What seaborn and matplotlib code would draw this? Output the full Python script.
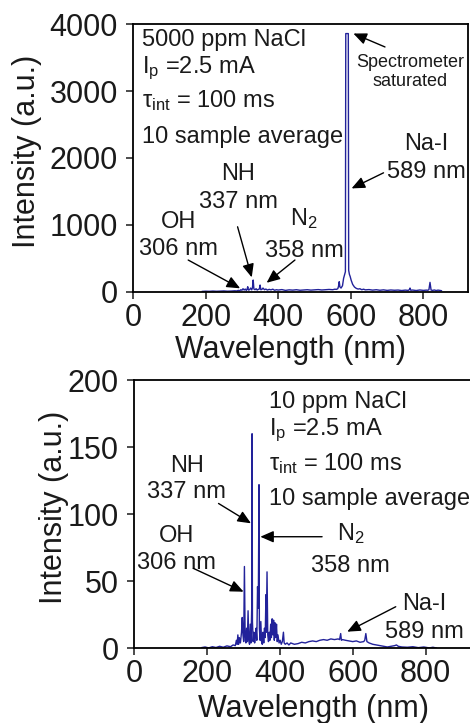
import pandas as pd
import matplotlib
matplotlib.use("Agg")
import matplotlib.pyplot as plt
import seaborn as sns

# Espectro 5000 ppm NaCl
top_wl = [190, 200, 210, 220, 230, 240, 250, 260, 270, 280,
          286, 290, 294, 297, 300, 303, 306, 309, 312, 314,
          316, 318, 321, 324, 327, 329, 331, 333, 336, 339,
          342, 345, 348, 350, 352, 355, 358, 362, 366, 370,
          375, 380, 385, 390, 395, 400, 410, 420, 430, 440,
          450, 460, 470, 480, 490, 500, 510, 520, 530, 540,
          550, 556, 560, 564, 566, 568, 570, 573, 577, 580,
          583, 585, 586, 593, 594, 596, 598, 601, 605, 610,
          615, 620, 625, 630, 635, 640, 650, 660, 670, 680,
          690, 700, 710, 720, 730, 740, 750, 758, 761, 763,
          765, 770, 780, 790, 800, 808, 812, 815, 818, 821,
          825, 830, 835, 840, 845, 850]
top_int = [5, 8, 6, 10, 7, 9, 12, 8, 10, 14,
           12, 20, 15, 30, 22, 45, 25, 40, 20, 35,
           75, 25, 30, 55, 28, 60, 175, 40, 30, 45,
           25, 35, 40, 100, 30, 35, 55, 30, 40, 25,
           35, 28, 38, 22, 30, 25, 32, 20, 28, 24,
           30, 22, 26, 30, 24, 28, 32, 26, 30, 34,
           30, 38, 35, 45, 80, 150, 70, 55, 90, 200,
           260, 300, 3860, 3860, 320, 260, 230, 170, 110, 70,
           50, 40, 45, 30, 38, 28, 32, 24, 30, 22,
           28, 20, 26, 22, 25, 18, 24, 20, 30, 55,
           22, 25, 18, 26, 20, 24, 22, 30, 140, 25,
           20, 26, 18, 24, 20, 15]

# Espectro 10 ppm NaCl
bot_wl = [185, 195, 205, 215, 225, 235, 245, 255, 265, 272,
          278, 281, 283, 285, 287, 289, 292, 295, 297, 299,
          301, 303, 305, 307, 309, 311, 313, 315, 317, 319,
          321, 323, 324, 325, 327, 329, 331, 333, 335, 337,
          339, 341, 343, 344, 346, 348, 350, 352, 354, 356,
          358, 360, 362, 363, 365, 367, 369, 371, 373, 375,
          377, 379, 381, 383, 385, 387, 389, 391, 393, 395,
          398, 401, 404, 407, 410, 412, 415, 420, 425, 430,
          440, 450, 460, 470, 480, 490, 500, 510, 520, 530,
          540, 550, 560, 564, 567, 569, 572, 580, 590, 600,
          610, 620, 630, 633, 636, 639, 645, 655, 665, 675,
          685, 695, 705, 715, 720, 725, 735, 750, 765, 780,
          795, 810, 820, 830]
bot_int = [0.5, 1, 0.3, 1.2, 0.6, 1.5, 0.8, 1.8, 1.2, 2.5,
           2, 6, 3, 10, 3, 8, 4, 12, 23, 10,
           5, 61, 8, 4, 15, 5, 28, 6, 3, 18,
           4, 30, 160, 20, 5, 12, 4, 8, 15, 6,
           46, 30, 122, 15, 6, 20, 5, 3, 12, 4,
           15, 8, 40, 12, 57, 10, 5, 12, 6, 18,
           8, 22, 10, 21, 6, 19, 8, 18, 5, 10,
           4, 6, 3, 5, 12, 4, 3, 4, 2.5, 4,
           3, 3.5, 4.5, 4, 5, 5.5, 5, 6, 6.5, 6,
           7, 6.5, 7, 6.5, 11, 6, 6.5, 6, 5.5, 5,
           5.5, 4.5, 5, 6, 11, 5, 4, 3, 2.5, 2,
           1.5, 1, 1.5, 2, 2.5, 1.5, 1, 0.8, 1.2, 0.5,
           1, 0.3, 0.8, 0.2]

sns.set_style("ticks")
plt.rcParams['font.family'] = ['Liberation Sans', 'DejaVu Sans']
plt.rcParams['mathtext.fontset'] = 'custom'
plt.rcParams['mathtext.rm'] = 'Liberation Sans'
plt.rcParams['mathtext.it'] = 'Liberation Sans:italic'
plt.rcParams['text.color'] = '#1a1a1a'
plt.rcParams['axes.labelcolor'] = '#1a1a1a'

color = '#22229a'
fs_big = 22
fs_txt = 17

fig = plt.figure(figsize=(4.7, 7.23), dpi=100)
ax1 = fig.add_axes([0.283, 0.5965, 0.713, 0.370])
ax2 = fig.add_axes([0.285, 0.1033, 0.716, 0.371])

df1 = pd.DataFrame({'wl': top_wl, 'I': top_int})
df2 = pd.DataFrame({'wl': bot_wl, 'I': bot_int})
sns.lineplot(data=df1, x='wl', y='I', ax=ax1, color=color, lw=1.0,
             estimator=None, sort=False)
sns.lineplot(data=df2, x='wl', y='I', ax=ax2, color=color, lw=1.0,
             estimator=None, sort=False)

for ax in (ax1, ax2):
    ax.set_xlim(0, 923)
    ax.set_xticks([0, 200, 400, 600, 800])
    ax.tick_params(direction='out', length=5, width=1.1, labelsize=fs_big,
                   colors='#1a1a1a')
    ax.tick_params(axis='y', pad=6)
    ax.tick_params(axis='x', pad=3)
    for s in ax.spines.values():
        s.set_linewidth(1.3)
        s.set_color('black')
    ax.set_xlabel('Wavelength (nm)', fontsize=fs_big)
    ax.set_ylabel('Intensity (a.u.)', fontsize=fs_big)

ax1.set_ylim(0, 4000)
ax1.set_yticks([0, 1000, 2000, 3000, 4000])
ax2.set_ylim(0, 200)
ax2.set_yticks([0, 50, 100, 150, 200])
ax2.spines['right'].set_visible(False)

ax1.xaxis.set_label_coords(0.471, -0.16)
ax2.xaxis.set_label_coords(0.534, -0.17)
ax1.yaxis.set_label_coords(-0.273, 0.526)
ax2.yaxis.set_label_coords(-0.194, 0.525)

arrow = dict(arrowstyle='-|>,head_length=0.8,head_width=0.35', color='black',
             lw=1.0, shrinkA=0, shrinkB=0)

# Panel superior
ax1.text(24, 3671, '5000 ppm NaCl', fontsize=fs_txt, va='baseline')
ax1.text(24, 3263, r'I$_{\mathrm{p}}$ =2.5 mA', fontsize=fs_txt, va='baseline')
ax1.text(24, 2755, r'τ$_{\mathrm{int}}$ = 100 ms', fontsize=fs_txt, va='baseline')
ax1.text(24, 2226, '10 sample average', fontsize=fs_txt, va='baseline')
ax1.text(763, 3362, 'Spectrometer', fontsize=13, ha='center', va='baseline')
ax1.text(763, 3073, 'saturated', fontsize=13, ha='center', va='baseline')
ax1.annotate('', xy=(607, 3861), xytext=(694, 3660), arrowprops=arrow)
ax1.text(809, 2118, 'Na-I', fontsize=fs_txt, ha='center', va='baseline')
ax1.text(809, 1696, '589 nm', fontsize=fs_txt, ha='center', va='baseline')
ax1.annotate('', xy=(602, 1545), xytext=(690, 1778), arrowprops=arrow)
ax1.text(290, 1670, 'NH', fontsize=fs_txt, ha='center', va='baseline')
ax1.text(290, 1258, '337 nm', fontsize=fs_txt, ha='center', va='baseline')
ax1.annotate('', xy=(327, 215), xytext=(288, 971), arrowprops=arrow)
ax1.text(125, 949, 'OH', fontsize=fs_txt, ha='center', va='baseline')
ax1.text(125, 550, '306 nm', fontsize=fs_txt, ha='center', va='baseline')
ax1.annotate('', xy=(295, 51), xytext=(152, 474), arrowprops=arrow)
ax1.text(471, 996, r'N$_2$', fontsize=fs_txt, ha='center', va='baseline')
ax1.text(471, 526, '358 nm', fontsize=fs_txt, ha='center', va='baseline')
ax1.annotate('', xy=(368, 134), xytext=(446, 474), arrowprops=arrow)

# Panel inferior
ax2.text(369.5, 178.9, '10 ppm NaCl', fontsize=fs_txt, va='baseline')
ax2.text(369.5, 159, r'I$_{\mathrm{p}}$ =2.5 mA', fontsize=fs_txt, va='baseline')
ax2.text(369.5, 132.9, r'τ$_{\mathrm{int}}$ = 100 ms', fontsize=fs_txt, va='baseline')
ax2.text(369.5, 106.8, '10 sample average', fontsize=fs_txt, va='baseline')
ax2.text(145, 131.6, 'NH', fontsize=fs_txt, ha='center', va='baseline')
ax2.text(145, 111.8, '337 nm', fontsize=fs_txt, ha='center', va='baseline')
ax2.annotate('', xy=(321, 93.2), xytext=(232, 108), arrowprops=arrow)
ax2.text(117.5, 79.5, 'OH', fontsize=fs_txt, ha='center', va='baseline')
ax2.text(117.5, 59, '306 nm', fontsize=fs_txt, ha='center', va='baseline')
ax2.annotate('', xy=(300.7, 42.2), xytext=(163, 59.6), arrowprops=arrow)
ax2.text(594, 80.7, r'N$_2$', fontsize=fs_txt, ha='center', va='baseline')
ax2.text(594, 57, '358 nm', fontsize=fs_txt, ha='center', va='baseline')
ax2.annotate('', xy=(346.6, 83.2), xytext=(516, 83.2), arrowprops=arrow)
ax2.text(796, 28.5, 'Na-I', fontsize=fs_txt, ha='center', va='baseline')
ax2.text(796, 7.9, '589 nm', fontsize=fs_txt, ha='center', va='baseline')
ax2.annotate('', xy=(585, 12.4), xytext=(718, 31), arrowprops=arrow)

fig.savefig('out.png', dpi=100)
